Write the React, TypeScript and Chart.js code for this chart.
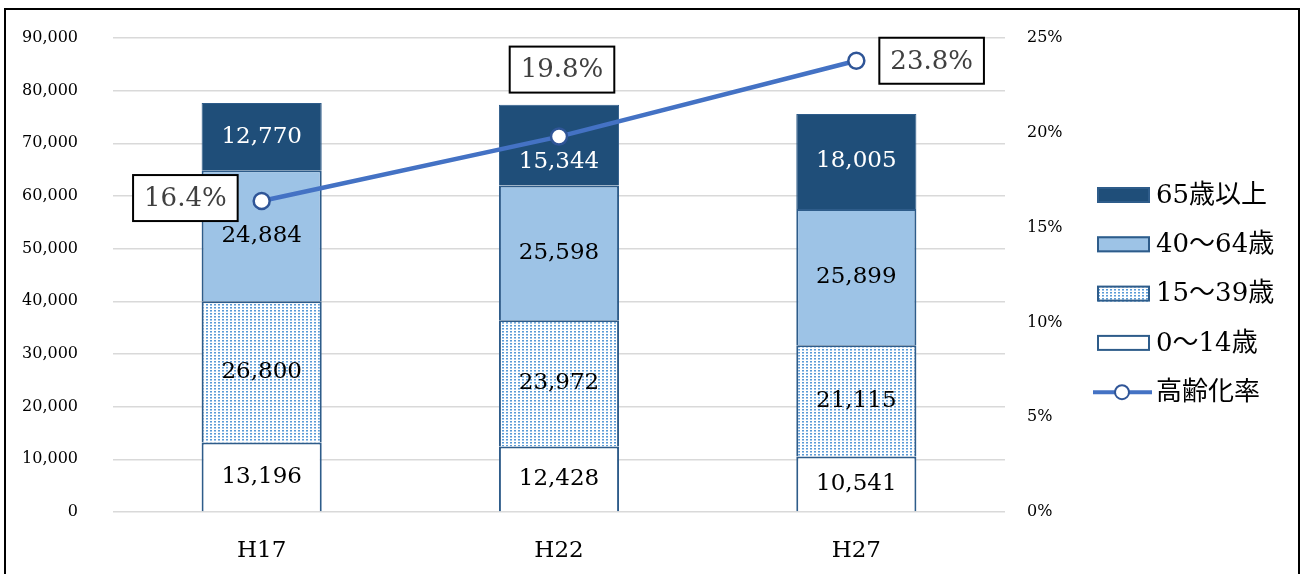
import React, { useEffect, useRef } from "react";
import { Chart, registerables } from "chart.js";

Chart.register(...registerables);

// ---- data ----
const categories = ["H17", "H22", "H27"];
const age0to14 = [13196, 12428, 10541];
const age15to39 = [26800, 23972, 21115];
const age40to64 = [24884, 25598, 25899];
const age65plus = [12770, 15344, 18005];
const agingRate = [16.4, 19.8, 23.8];
const seriesNames = ["0～14歳", "15～39歳", "40～64歳", "65歳以上", "高齢化率"];
const leftMax = 90000;
const leftStep = 10000;
const rightMax = 25;
const rightStep = 5;

// ---- styles ----
const SERIF = '"DejaVu Serif", "Noto Sans CJK JP", serif';
const DARK = "#1F4E79";
const LIGHT = "#9DC3E6";
const EDGE = "#2E5C8A";
const LINE = "#4472C4";
const POINT_EDGE = "#2F5597";
const rateLabelPlacement = ["left", "top", "right"];
const barLabelNudge: Record<string, number> = { "3-1": 17 };

function makeDotPattern(): CanvasPattern | string {
  const c = document.createElement("canvas");
  c.width = 4;
  c.height = 3;
  const g = c.getContext("2d");
  if (!g) return "#cfe0f3";
  g.fillStyle = "#ffffff";
  g.fillRect(0, 0, 4, 3);
  g.fillStyle = "#5B9BD5";
  g.fillRect(0, 0, 2, 1);
  g.fillStyle = "#A4C8EC";
  g.fillRect(0, 1, 2, 1);
  const p = g.createPattern(c, "repeat");
  return p || "#cfe0f3";
}

const labelPlugin = {
  id: "valueLabels",
  afterDatasetsDraw(chart: any) {
    const ctx = chart.ctx as CanvasRenderingContext2D;
    ctx.save();
    for (let d = 0; d < 4; d++) {
      const meta = chart.getDatasetMeta(d);
      meta.data.forEach((el: any, i: number) => {
        const v = chart.data.datasets[d].data[i] as number;
        const p = el.getProps(["x", "y", "base"], true);
        const nudge = barLabelNudge[`${d}-${i}`] || 0;
        ctx.fillStyle = d === 3 ? "#ffffff" : "#000000";
        ctx.font = `23px ${SERIF}`;
        ctx.textAlign = "center";
        ctx.textBaseline = "middle";
        ctx.fillText(v.toLocaleString("en-US"), p.x, (p.y + p.base) / 2 + nudge);
      });
    }
    const lmeta = chart.getDatasetMeta(4);
    lmeta.data.forEach((el: any, i: number) => {
      const v = chart.data.datasets[4].data[i] as number;
      const text = `${v.toFixed(1)}%`;
      ctx.font = `26px ${SERIF}`;
      const w = ctx.measureText(text).width + 22;
      const h = 46;
      let cx = el.x;
      let cy = el.y;
      const place = rateLabelPlacement[i];
      if (place === "left") {
        cx = el.x - 24 - w / 2;
        cy = el.y - 3;
      } else if (place === "top") {
        cx = el.x + 3;
        cy = el.y - 44 - h / 2;
      } else {
        cx = el.x + 23 + w / 2;
        cy = el.y;
      }
      ctx.fillStyle = "#ffffff";
      ctx.fillRect(cx - w / 2, cy - h / 2, w, h);
      ctx.strokeStyle = "#000000";
      ctx.lineWidth = 2;
      ctx.strokeRect(cx - w / 2, cy - h / 2, w, h);
      ctx.fillStyle = "#404040";
      ctx.textAlign = "center";
      ctx.textBaseline = "middle";
      ctx.fillText(text, cx, cy + 1);
    });
    ctx.restore();
  },
};

const legendPlugin = {
  id: "customLegend",
  afterDraw(chart: any) {
    const ctx = chart.ctx as CanvasRenderingContext2D;
    const ds = chart.data.datasets;
    const order = [3, 2, 1, 0, 4];
    const x0 = 1091;
    const y0 = 185;
    const step = 49.3;
    ctx.save();
    order.forEach((d, k) => {
      const cy = y0 + k * step;
      if (d < 4) {
        ctx.fillStyle = ds[d].backgroundColor;
        ctx.fillRect(x0, cy - 8, 53, 16);
        ctx.strokeStyle = EDGE;
        ctx.lineWidth = 2;
        ctx.strokeRect(x0 + 1, cy - 7, 51, 14);
      } else {
        ctx.strokeStyle = LINE;
        ctx.lineWidth = 4;
        ctx.beginPath();
        ctx.moveTo(x0 - 4, cy);
        ctx.lineTo(x0 + 55, cy);
        ctx.stroke();
        ctx.beginPath();
        ctx.arc(x0 + 25, cy, 7, 0, Math.PI * 2);
        ctx.fillStyle = "#ffffff";
        ctx.fill();
        ctx.strokeStyle = POINT_EDGE;
        ctx.lineWidth = 2;
        ctx.stroke();
      }
      ctx.fillStyle = "#000000";
      ctx.font = `26px ${SERIF}`;
      ctx.textAlign = "left";
      ctx.textBaseline = "middle";
      ctx.fillText(seriesNames[d], x0 + 59, cy + 1);
    });
    ctx.restore();
  },
};

export default function App() {
  const ref = useRef<HTMLCanvasElement | null>(null);

  useEffect(() => {
    if (!ref.current) return;
    const dots = makeDotPattern();
    const chart = new Chart(ref.current, {
      type: "bar",
      data: {
        labels: categories,
        datasets: [
          {
            type: "bar",
            label: seriesNames[0],
            data: age0to14,
            backgroundColor: "#ffffff",
            borderColor: EDGE,
            borderWidth: 2,
            order: 1,
            yAxisID: "y",
          },
          {
            type: "bar",
            label: seriesNames[1],
            data: age15to39,
            backgroundColor: dots as any,
            borderColor: EDGE,
            borderWidth: 2,
            order: 1,
            yAxisID: "y",
          },
          {
            type: "bar",
            label: seriesNames[2],
            data: age40to64,
            backgroundColor: LIGHT,
            borderColor: EDGE,
            borderWidth: 2,
            order: 1,
            yAxisID: "y",
          },
          {
            type: "bar",
            label: seriesNames[3],
            data: age65plus,
            backgroundColor: DARK,
            borderColor: EDGE,
            borderWidth: 1,
            order: 1,
            yAxisID: "y",
          },
          {
            type: "line",
            label: seriesNames[4],
            data: agingRate,
            borderColor: LINE,
            borderWidth: 4.5,
            pointRadius: 8,
            pointBorderWidth: 2.5,
            pointBackgroundColor: "#ffffff",
            pointBorderColor: POINT_EDGE,
            order: 0,
            yAxisID: "y1",
          } as any,
        ],
      },
      options: {
        responsive: false,
        animation: false,
        devicePixelRatio: 1,
        layout: { padding: { top: 28, left: 0, right: 0, bottom: 0 } },
        datasets: {
          bar: { barPercentage: 0.404, categoryPercentage: 1.0 },
        },
        plugins: {
          legend: { display: false },
          tooltip: { enabled: false },
        },
        scales: {
          x: {
            stacked: true,
            grid: { display: false, drawTicks: false },
            border: { display: false },
            ticks: {
              color: "#000000",
              font: { family: SERIF, size: 23 },
              padding: 25,
            },
            afterFit: (s: any) => {
              s.height = 68;
            },
          },
          y: {
            stacked: true,
            position: "left",
            min: 0,
            max: leftMax,
            grid: {
              color: "#D9D9D9",
              lineWidth: 1.5,
              drawTicks: true,
              tickLength: 35,
              tickColor: "rgba(0,0,0,0)",
            },
            border: { display: false },
            ticks: {
              stepSize: leftStep,
              color: "#000000",
              font: { family: SERIF, size: 16 },
              padding: 0,
              callback: (v: any) => Number(v).toLocaleString("en-US"),
            },
            afterFit: (s: any) => {
              s.width = 107;
            },
          },
          y1: {
            position: "right",
            min: 0,
            max: rightMax,
            grid: {
              display: true,
              drawOnChartArea: false,
              drawTicks: true,
              tickLength: 22,
              tickColor: "rgba(0,0,0,0)",
              color: "rgba(0,0,0,0)",
            },
            border: { display: false },
            ticks: {
              stepSize: rightStep,
              color: "#000000",
              font: { family: SERIF, size: 16 },
              padding: 0,
              callback: (v: any) => `${v}%`,
            },
            afterFit: (s: any) => {
              s.width = 293;
            },
          },
        },
      } as any,
      plugins: [labelPlugin, legendPlugin],
    });
    return () => chart.destroy();
  }, []);

  return (
    <div
      style={{
        position: "absolute",
        left: 4,
        top: 8,
        width: 1296,
        height: 580,
        border: "2px solid #000",
        boxSizing: "border-box",
        background: "#fff",
        overflow: "hidden",
      }}
    >
      <canvas ref={ref} width={1292} height={570} style={{ display: "block" }} />
    </div>
  );
}
